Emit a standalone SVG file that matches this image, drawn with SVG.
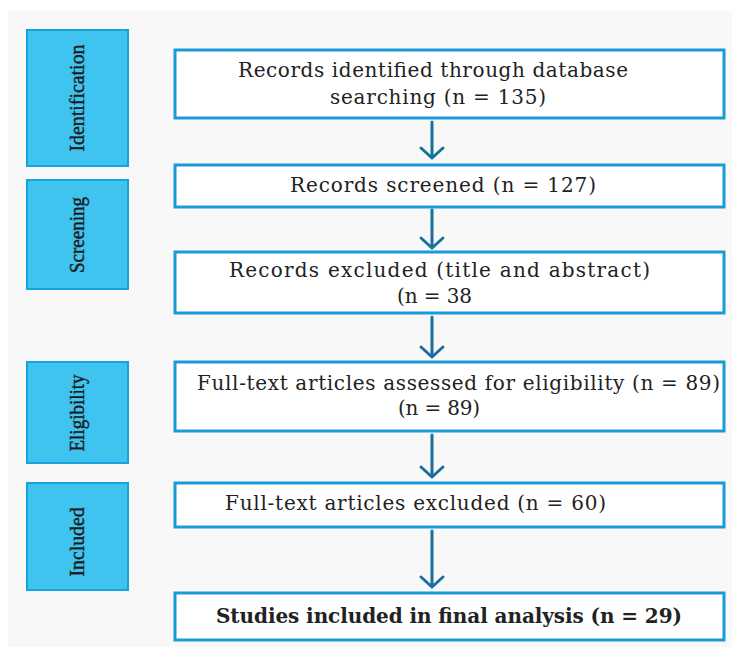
<svg xmlns="http://www.w3.org/2000/svg" width="732" height="647" viewBox="0 0 732 647">
<style>
.stage rect{fill:#3fc3ef;stroke:#16a2da;stroke-width:2}
.stage text{font-family:"Liberation Serif","Times New Roman",serif;font-size:22px;fill:#1a1a1a;stroke:#1a1a1a;stroke-width:0.4;text-anchor:middle}
.box rect{fill:#ffffff;stroke:#1b9ad8;stroke-width:3}
.box text{font-family:"DejaVu Serif","Liberation Serif",serif;font-size:20px;fill:#222}
.conn path{fill:none;stroke:#17709e;stroke-width:3;stroke-linecap:round;stroke-linejoin:round}
</style>
<rect width="732" height="647" fill="#ffffff"/>
<rect x="8" y="11" width="724" height="636" fill="#f8f8f8"/>

<g id="stage-identification" class="stage"><rect x="27" y="30" width="101" height="136"/><text transform="translate(84,98) rotate(-90)" textLength="107" lengthAdjust="spacingAndGlyphs">Identification</text></g>
<g id="stage-screening" class="stage"><rect x="27" y="180" width="101" height="109"/><text transform="translate(84,235) rotate(-90)" textLength="76" lengthAdjust="spacingAndGlyphs">Screening</text></g>
<g id="stage-eligibility" class="stage"><rect x="27" y="362" width="101" height="101"/><text transform="translate(84,413) rotate(-90)" textLength="77" lengthAdjust="spacingAndGlyphs">Eligibility</text></g>
<g id="stage-included" class="stage"><rect x="27" y="483" width="101" height="107"/><text transform="translate(84,542) rotate(-90)" textLength="69" lengthAdjust="spacingAndGlyphs">Included</text></g>

<g id="box-identified" class="box"><rect x="175" y="50" width="549" height="68"/><text x="238" y="77" textLength="390" lengthAdjust="spacing">Records identified through database</text><text x="330" y="104" textLength="216" lengthAdjust="spacing">searching (n = 135)</text></g>
<g id="box-screened" class="box"><rect x="175" y="165" width="549" height="42"/><text x="290" y="192" textLength="306" lengthAdjust="spacing">Records screened (n = 127)</text></g>
<g id="box-excluded" class="box"><rect x="175" y="252" width="549" height="61"/><text x="229" y="277" textLength="421" lengthAdjust="spacing">Records excluded (title and abstract)</text><text x="397" y="303" textLength="75" lengthAdjust="spacing">(n = 38</text></g>
<g id="box-assessed" class="box"><rect x="175" y="362" width="549" height="69"/><text x="197" y="390" textLength="523" lengthAdjust="spacing">Full-text articles assessed for eligibility (n = 89)</text><text x="398" y="415" textLength="82" lengthAdjust="spacing">(n = 89)</text></g>
<g id="box-ftexcluded" class="box"><rect x="175" y="483" width="549" height="44"/><text x="225" y="510" textLength="381" lengthAdjust="spacing">Full-text articles excluded (n = 60)</text></g>
<g id="box-included" class="box"><rect x="175" y="593" width="549" height="47"/><text x="216" y="623" font-weight="bold" textLength="466" lengthAdjust="spacing">Studies included in final analysis (n = 29)</text></g>

<g id="connectors" class="conn">
<path d="M432 122V158M421 148L432 158L443 148"/>
<path d="M432 210V248M421 238L432 248L443 238"/>
<path d="M432 317V357M421 347L432 357L443 347"/>
<path d="M432 435V477M421 467L432 477L443 467"/>
<path d="M432 531V587M421 577L432 587L443 577"/>
</g>
</svg>
